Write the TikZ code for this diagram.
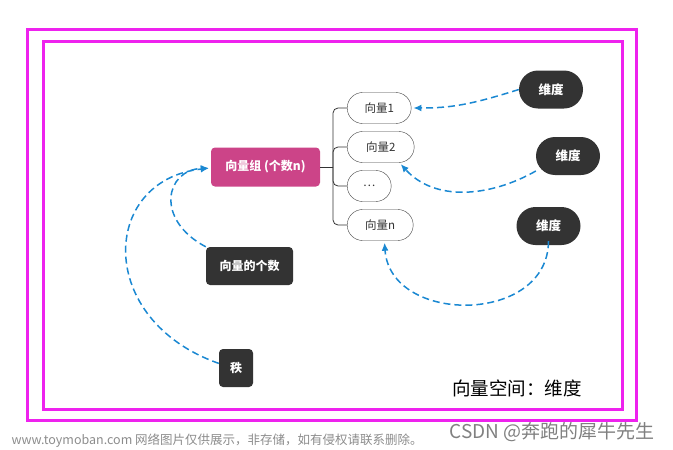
\documentclass[tikz,border=0pt]{standalone}
\usepackage{fontspec}
\setmainfont{Noto Sans CJK SC}
\usepackage{xcolor}
\usetikzlibrary{positioning,arrows.meta}
\definecolor{frameMag}{HTML}{EE22EE}
\definecolor{groupPink}{HTML}{CC4488}
\definecolor{darkBox}{HTML}{333333}
\definecolor{linkBlue}{HTML}{1A88D2}

\begin{document}
\begin{tikzpicture}[x=1pt, y=-1pt, font=\fontsize{11.5}{13}\selectfont,
  vec/.style={draw=black!75, fill=white, rounded corners=15.5pt, minimum height=31pt, inner sep=0pt, anchor=west, text=black!80},
  dim/.style={fill=darkBox, text=white, font=\fontsize{12.5}{14}\selectfont\bfseries, rounded corners=19pt, minimum width=64pt, minimum height=38pt},
  tag/.style={fill=darkBox, text=white, font=\fontsize{12}{14}\selectfont\bfseries, rounded corners=4pt, minimum height=38pt, inner sep=0pt},
  link/.style={draw=linkBlue, line width=1.5pt, dash pattern=on 7pt off 4pt, shorten >=2pt, -{Latex[length=8pt,width=7pt]}}]
  \useasboundingbox (0,0) rectangle (673,450);
  \draw[frameMag, line width=3pt] (27,29) rectangle (636,420);
  \draw[frameMag, line width=3pt] (43,41) rectangle (622,409);

  \node[tag, fill=groupPink, minimum width=109pt, minimum height=39pt] (grp) at (265.5,167) {向量组 (个数n)};
  \foreach \y/\n/\t/\w in {108/v1/向量1/64, 147/v2/向量2/67, 186/v3/{\ldots}/44, 225/vn/向量n/66}
    \node[vec, minimum width=\w pt] (\n) at (347,\y) {\t};
  \coordinate (br) at (333,167);
  \draw[black!80, line width=1pt] (grp.east) -- (br);
  \foreach \n in {v1,v2,v3,vn}
    \draw[black!80, line width=0.8pt, rounded corners=5pt] (br) |- (\n.west);

  \node[dim] (d1) at (551,89.5) {维度};
  \node[dim] (d2) at (568,156) {维度};
  \node[dim] (d3) at (548.5,226) {维度};
  \node[tag, minimum width=87pt] (cnt) at (249.5,266) {向量的个数};
  \node[tag, minimum width=34pt] (rank) at (236,368) {秩};

  \draw[link] (d1.west) .. controls (470,105) and (450,108) .. (v1.east);
  \draw[link] (d2.205) .. controls (490,197) and (435,202) .. (v2.-40);
  \draw[link] ([yshift=4pt]d3.south) .. controls (548,325) and (390,325) .. (vn.-75);
  \draw[link] (cnt.north west) .. controls (155,220) and (165,170) .. ([yshift=-1pt]grp.west);
  \draw[link] (rank.165) .. controls (95,320) and (100,180) .. ([yshift=-1pt]grp.west);

  \node[font=\fontsize{18.5}{22}\selectfont] (space) at (517,388) {向量空间：维度};
  \node[anchor=west, text=black!45, font=\fontsize{12.5}{14}\selectfont] (wm) at (8,441) {www.toymoban.com 网络图片仅供展示，非存储，如有侵权请联系删除。};
  \node[anchor=east, text=black!50, font=\fontsize{19}{22}\selectfont] (csdn) at (658,432) {CSDN @奔跑的犀牛先生};
\end{tikzpicture}
\end{document}
